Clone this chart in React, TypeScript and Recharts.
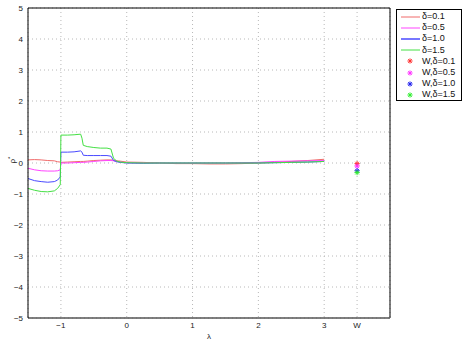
import React from 'react';
import {
    ComposedChart, Line, Scatter, XAxis, YAxis, CartesianGrid, ReferenceLine
} from 'recharts';

document.body.style.margin = '0';

// lambda samples along the x axis
const lambdas = [
    -1.5, -1.4, -1.3, -1.2, -1.1, -1.05, -1.01, -1.0, -0.9, -0.8, -0.7, -0.68, -0.66, -0.6,
    -0.5, -0.4, -0.3, -0.24, -0.2, -0.15, -0.1, 0, 0.25, 0.5, 0.75, 1, 1.25, 1.5, 1.75,
    2, 2.25, 2.5, 2.75, 3
];

const delta01 = [
    0.10, 0.11, 0.10, 0.08, 0.07, 0.04, 0.03, 0.02, 0.03, 0.04, 0.05, 0.05, 0.05, 0.06,
    0.08, 0.09, 0.10, 0.10, 0.09, 0.07, 0.06, 0.03, 0.02, 0.0, -0.02, -0.02, -0.03, -0.03, -0.02,
    0.0, 0.02, 0.05, 0.08, 0.12
];
const delta05 = [
    -0.17, -0.22, -0.25, -0.26, -0.26, -0.25, -0.22, 0.0, 0.0, 0.01, 0.02, 0.02, 0.02, 0.03,
    0.05, 0.07, 0.08, 0.08, 0.07, 0.05, 0.03, 0.01, 0.0, 0.0, 0.0, 0.0, 0.0, 0.0, 0.01,
    0.02, 0.05, 0.06, 0.07, 0.08
];
const delta10 = [
    -0.5, -0.57, -0.6, -0.62, -0.6, -0.55, -0.45, 0.35, 0.35, 0.36, 0.39, 0.35, 0.25, 0.24,
    0.24, 0.24, 0.24, 0.22, 0.08, 0.04, 0.02, 0.0, -0.01, 0.0, 0.0, 0.0, 0.0, 0.0, 0.0,
    0.0, 0.01, 0.02, 0.03, 0.05
];
const delta15 = [
    -0.82, -0.88, -0.92, -0.93, -0.9, -0.82, -0.7, 0.9, 0.9, 0.91, 0.93, 0.8, 0.57, 0.53,
    0.5, 0.48, 0.48, 0.45, 0.15, 0.06, 0.03, 0.01, 0.0, 0.0, 0.0, 0.0, 0.0, 0.0, 0.0,
    0.0, 0.01, 0.02, 0.03, 0.05
];

// values at W
const wValues = [-0.02, -0.1, -0.25, -0.31];

const xTicks = [-1, 0, 1, 2, 3, 3.5];
const yTicks = [-5, -4, -3, -2, -1, 0, 1, 2, 3, 4, 5];
const wPosition = 3.5;

const lineNames = ['δ=0.1', 'δ=0.5', 'δ=1.0', 'δ=1.5'];
const pointNames = ['W,δ=0.1', 'W,δ=0.5', 'W,δ=1.0', 'W,δ=1.5'];
const lineColors = ['#f06a6a', '#ff44ff', '#4a4aff', '#44e044'];
const pointColors = ['#ff3030', '#ff30ff', '#2020ee', '#30ee30'];

const chartData = lambdas.map((lam, i) => ({
    lam,
    d01: delta01[i],
    d05: delta05[i],
    d10: delta10[i],
    d15: delta15[i]
}));

const seriesKeys = ['d01', 'd05', 'd10', 'd15'];

const FONT = '"Liberation Sans", Arial, Helvetica, sans-serif';

const fmtNum = (v: number) => String(v).replace('-', '\u2212');

const Asterisk = (props: any) => {
    const { cx, cy, fill } = props;
    const r = 2.6;
    const d = r * 0.7;
    return (
        <g stroke={fill} strokeWidth={1}>
            <line x1={cx - r} y1={cy} x2={cx + r} y2={cy} />
            <line x1={cx} y1={cy - r} x2={cx} y2={cy + r} />
            <line x1={cx - d} y1={cy - d} x2={cx + d} y2={cy + d} />
            <line x1={cx - d} y1={cy + d} x2={cx + d} y2={cy - d} />
        </g>
    );
};

const LegendBox = () => (
    <div style={{
        position: 'absolute',
        left: 396,
        top: 9,
        border: '1px solid #000',
        background: 'white',
        width: 66,
        height: 92,
        boxSizing: 'border-box',
        fontFamily: FONT,
        fontSize: 9,
        paddingTop: 1,
        lineHeight: '11.2px',
        color: '#111'
    }}>
        {lineNames.map((n, i) => (
            <div key={n} style={{ display: 'flex', alignItems: 'center', height: 11.2 }}>
                <svg width={22} height={8} style={{ marginLeft: 3 }}>
                    <line x1={1} y1={4} x2={20} y2={4} stroke={lineColors[i]} strokeWidth={i === 2 ? 1.5 : 1} />
                </svg>
                <span>{n}</span>
            </div>
        ))}
        {pointNames.map((n, i) => (
            <div key={n} style={{ display: 'flex', alignItems: 'center', height: 11.2 }}>
                <svg width={22} height={8} style={{ marginLeft: 3 }}>
                    <Asterisk cx={10} cy={4} fill={pointColors[i]} />
                </svg>
                <span>{n}</span>
            </div>
        ))}
    </div>
);

const App = () => {
    return (
        <div style={{ position: 'relative', width: 466, height: 341, background: 'white' }}>
            <ComposedChart
                width={466}
                height={341}
                data={chartData}
                margin={{ top: 8, right: 76, bottom: 0, left: 0 }}
                style={{ fontFamily: FONT }}
            >
                <CartesianGrid stroke="#b8b8b8" strokeDasharray="1 3" />
                <XAxis
                    dataKey="lam"
                    type="number"
                    domain={[-1.5, 4]}
                    ticks={xTicks}
                    allowDataOverflow
                    tickFormatter={(v: number) => (v === wPosition ? 'W' : fmtNum(v))}
                    tick={{ fontSize: 8, fill: '#222' }}
                    tickLine={false}
                    tickSize={0}
                    tickMargin={4}
                    stroke="#555"
                    strokeWidth={1.5}
                    height={23}
                    label={{ value: 'λ', position: 'insideBottom', offset: 2, fontSize: 8, fill: '#222' }}
                />
                <YAxis
                    type="number"
                    domain={[-5, 5]}
                    ticks={yTicks}
                    tickFormatter={fmtNum}
                    tick={{ fontSize: 8, fill: '#222' }}
                    tickLine={false}
                    tickSize={0}
                    tickMargin={5}
                    stroke="#000"
                    width={28}
                    label={{
                        content: (p: any) => {
                            const vb = p.viewBox || { x: 0, y: 8, width: 28, height: 310 };
                            const x = vb.x + 15;
                            const y = vb.y + vb.height / 2 - 3;
                            return (
                                <text x={x} y={y} transform={`rotate(-90 ${x} ${y})`} textAnchor="middle"
                                    fontSize={8} fill="#222" fontFamily={FONT}>
                                    ρ<tspan dy={-3} fontSize={6}>*</tspan>
                                </text>
                            );
                        }
                    }}
                />
                <ReferenceLine y={5} stroke="#000" />
                <ReferenceLine x={4} stroke="#000" />
                {seriesKeys.map((k, i) => (
                    <Line
                        key={k}
                        dataKey={k}
                        name={lineNames[i]}
                        type="linear"
                        stroke={lineColors[i]}
                        strokeWidth={1}
                        dot={false}
                        isAnimationActive={false}
                    />
                ))}
                {wValues.map((v, i) => (
                    <Scatter
                        key={pointNames[i]}
                        name={pointNames[i]}
                        data={[{ lam: wPosition, val: v }]}
                        dataKey="val"
                        fill={pointColors[i]}
                        shape={<Asterisk />}
                        isAnimationActive={false}
                    />
                ))}
            </ComposedChart>
            <LegendBox />
        </div>
    );
};

export default App;
